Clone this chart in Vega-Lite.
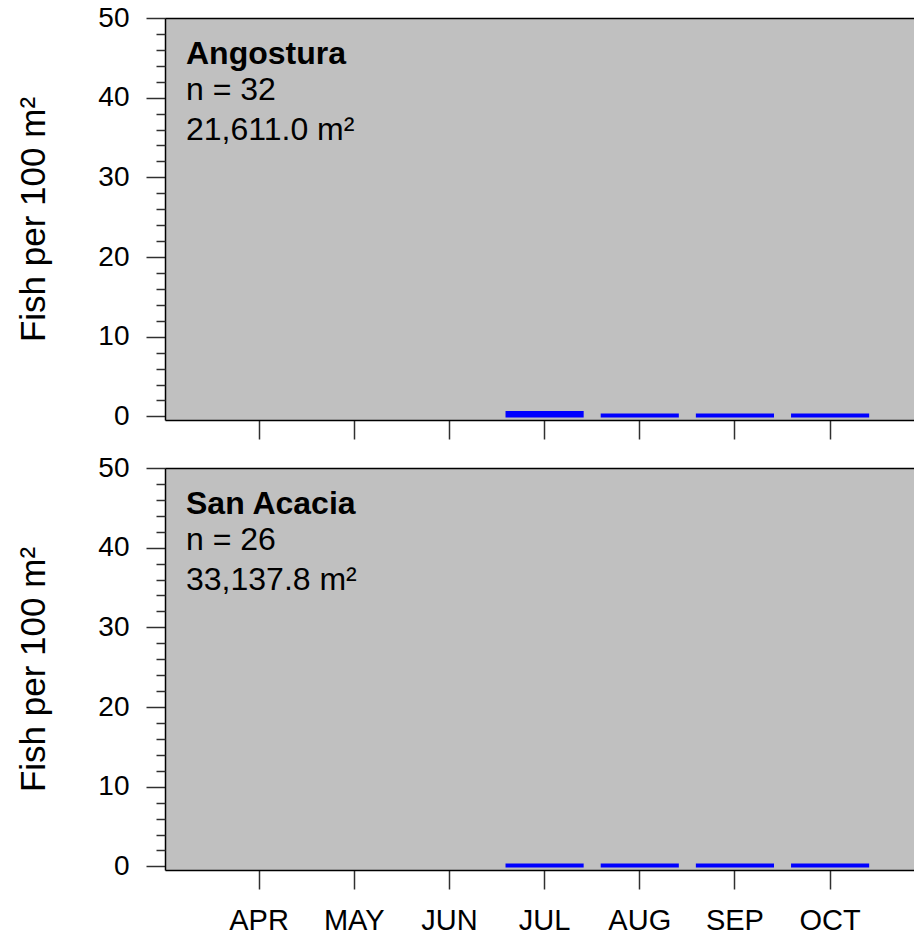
{
  "$schema": "https://vega.github.io/schema/vega-lite/v6.json",
  "background": "white",
  "padding": {"left": 16, "top": 4, "right": 0, "bottom": 0},
  "config": {
    "font": "Liberation Sans",
    "view": {"fill": "#C0C0C0", "stroke": null},
    "axis": {"grid": false}
  },
  "bounds": "flush",
  "spacing": 48,
  "datasets": {
    "ang": [
      {"month": "JUL", "density": 0.54},
      {"month": "AUG", "density": 0.25},
      {"month": "SEP", "density": 0.25},
      {"month": "OCT", "density": 0.25}
    ],
    "sa": [
      {"month": "JUL", "density": 0.25},
      {"month": "AUG", "density": 0.25},
      {"month": "SEP", "density": 0.25},
      {"month": "OCT", "density": 0.25}
    ]
  },
  "vconcat": [
    {
      "width": 749,
      "height": 402,
      "data": {"name": "ang"},
      "title": {
        "text": "Angostura",
        "subtitle": ["n = 32", "21,611.0 m²"],
        "anchor": "start",
        "frame": "group",
        "orient": "top",
        "offset": -143,
        "dx": 21,
        "font": "Liberation Sans",
        "fontSize": 32,
        "fontWeight": "bold",
        "color": "black",
        "subtitleFont": "Liberation Sans",
        "subtitleFontSize": 32,
        "subtitleColor": "black",
        "subtitleLineHeight": 40,
        "subtitlePadding": 4
      },
      "layer": [
        {
          "mark": {"type": "bar", "color": "#0000FF", "stroke": "#0000FF", "strokeWidth": 2},
          "encoding": {
            "x": {
              "field": "month", "type": "ordinal",
              "scale": {"domain": ["APR", "MAY", "JUN", "JUL", "AUG", "SEP", "OCT"], "paddingInner": 0.2, "paddingOuter": 0.535, "align": 0.55},
              "axis": {"orient": "bottom", "title": null, "labels": false, "tickSize": 19, "tickWidth": 1.5, "tickColor": "#303030", "domainColor": "black", "domainWidth": 1.5}
            },
            "y": {
              "field": "density", "type": "quantitative",
              "scale": {"domain": [-0.45, 50], "nice": false, "zero": false},
              "axis": {"values": [0, 10, 20, 30, 40, 50], "tickSize": 19, "tickWidth": 1.5, "tickColor": "#303030", "domainColor": "black", "domainWidth": 1.5, "labelFontSize": 28, "labelColor": "black", "labelPadding": 17, "title": "Fish per 100 m²", "titleFontSize": 35, "titleFontWeight": "normal", "titleColor": "black", "titlePadding": 46}
            },
            "y2": {"datum": 0}
          }
        },
        {
          "mark": {"type": "point", "opacity": 0},
          "encoding": {
            "x": {
              "field": "month", "type": "ordinal",
              "scale": {"domain": ["APR", "MAY", "JUN", "JUL", "AUG", "SEP", "OCT"], "paddingInner": 0.2, "paddingOuter": 0.535, "align": 0.55},
              "axis": {"orient": "top", "title": null, "labels": false, "ticks": false, "domainColor": "black", "domainWidth": 1.5}
            },
            "y": {
              "field": "density", "type": "quantitative",
              "scale": {"domain": [-0.45, 50], "nice": false, "zero": false},
              "axis": {"orient": "left", "values": [2, 4, 6, 8, 12, 14, 16, 18, 22, 24, 26, 28, 32, 34, 36, 38, 42, 44, 46, 48], "tickSize": 9, "tickWidth": 1.5, "tickColor": "#303030", "labels": false, "domain": false, "title": null}
            }
          }
        }
      ],
      "resolve": {"scale": {"x": "independent", "y": "independent"}}
    },
    {
      "width": 749,
      "height": 402,
      "data": {"name": "sa"},
      "title": {
        "text": "San Acacia",
        "subtitle": ["n = 26", "33,137.8 m²"],
        "anchor": "start",
        "frame": "group",
        "orient": "top",
        "offset": -143,
        "dx": 21,
        "font": "Liberation Sans",
        "fontSize": 32,
        "fontWeight": "bold",
        "color": "black",
        "subtitleFont": "Liberation Sans",
        "subtitleFontSize": 32,
        "subtitleColor": "black",
        "subtitleLineHeight": 40,
        "subtitlePadding": 4
      },
      "layer": [
        {
          "mark": {"type": "bar", "color": "#0000FF", "stroke": "#0000FF", "strokeWidth": 2},
          "encoding": {
            "x": {
              "field": "month", "type": "ordinal",
              "scale": {"domain": ["APR", "MAY", "JUN", "JUL", "AUG", "SEP", "OCT"], "paddingInner": 0.2, "paddingOuter": 0.535, "align": 0.55},
              "axis": {"orient": "bottom", "title": null, "labelAngle": 0, "labelFontSize": 29, "labelColor": "black", "labelPadding": 17, "tickSize": 19, "tickWidth": 1.5, "tickColor": "#303030", "domainColor": "black", "domainWidth": 1.5}
            },
            "y": {
              "field": "density", "type": "quantitative",
              "scale": {"domain": [-0.45, 50], "nice": false, "zero": false},
              "axis": {"values": [0, 10, 20, 30, 40, 50], "tickSize": 19, "tickWidth": 1.5, "tickColor": "#303030", "domainColor": "black", "domainWidth": 1.5, "labelFontSize": 28, "labelColor": "black", "labelPadding": 17, "title": "Fish per 100 m²", "titleFontSize": 35, "titleFontWeight": "normal", "titleColor": "black", "titlePadding": 46}
            },
            "y2": {"datum": 0}
          }
        },
        {
          "mark": {"type": "point", "opacity": 0},
          "encoding": {
            "x": {
              "field": "month", "type": "ordinal",
              "scale": {"domain": ["APR", "MAY", "JUN", "JUL", "AUG", "SEP", "OCT"], "paddingInner": 0.2, "paddingOuter": 0.535, "align": 0.55},
              "axis": {"orient": "top", "title": null, "labels": false, "ticks": false, "domainColor": "black", "domainWidth": 1.5}
            },
            "y": {
              "field": "density", "type": "quantitative",
              "scale": {"domain": [-0.45, 50], "nice": false, "zero": false},
              "axis": {"orient": "left", "values": [2, 4, 6, 8, 12, 14, 16, 18, 22, 24, 26, 28, 32, 34, 36, 38, 42, 44, 46, 48], "tickSize": 9, "tickWidth": 1.5, "tickColor": "#303030", "labels": false, "domain": false, "title": null}
            }
          }
        }
      ],
      "resolve": {"scale": {"x": "independent", "y": "independent"}}
    }
  ]
}
